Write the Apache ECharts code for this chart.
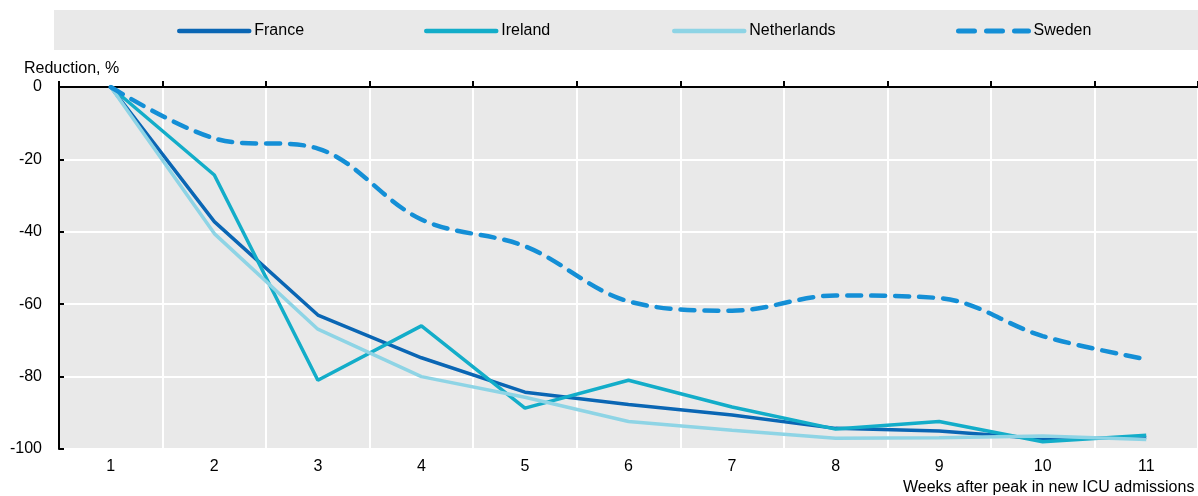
<!DOCTYPE html>
<html>
<head>
<meta charset="utf-8">
<script src="https://cdn.jsdelivr.net/npm/echarts@6/dist/echarts.min.js"></script>
<style>
  html, body { margin: 0; padding: 0; background: #fff; }
  #chart { width: 1198px; height: 496px; }
</style>
</head>
<body>
<div id="chart"></div>
<script>
const weeks = ['1', '2', '3', '4', '5', '6', '7', '8', '9', '10', '11']
const france = [0, -37.2, -63, -74.8, -84.3, -87.7, -90.6, -94.3, -95, -97.2, -96.8]
const ireland = [0, -24.3, -81, -66, -88.7, -81, -88.4, -94.5, -92.4, -98, -96.2]
const netherlands = [0, -40.5, -66.9, -80, -85.7, -92.4, -94.8, -97, -96.9, -96.4, -97.4]
const sweden = [0, -14.2, -17, -36.6, -44, -59.2, -61.8, -57.6, -58.3, -68.8, -75.2]
const yTicks = [0, -20, -40, -60, -80, -100]

const font = '"Liberation Sans", Arial, sans-serif'
const colors = {
  France: '#0a66b4',
  Ireland: '#13adc9',
  Netherlands: '#8ed4e5',
  Sweden: '#148fd6',
}

const chart = echarts.init(document.getElementById('chart'))

const legendAt = (name, left, dashed) => ({
  data: [name],
  left: left,
  top: 23,
  padding: 0,
  itemWidth: 70,
  itemHeight: 16,
  itemGap: 0,
  itemStyle: { opacity: 0 },
  lineStyle: dashed
    ? { width: 5, type: [16, 12], cap: 'round' }
    : { width: 4.5, cap: 'round' },
  textStyle: { fontFamily: font, fontSize: 16, color: '#000' },
})

const lineSeries = (name, data, extra) => Object.assign({
  name: name,
  type: 'line',
  data: data,
  symbol: 'none',
  color: colors[name],
  lineStyle: { color: colors[name], width: 3.5 },
  emphasis: { disabled: true },
}, extra)

chart.setOption({
  animation: false,
  graphic: [
    { type: 'rect', shape: { x: 54, y: 10, width: 1144, height: 40 }, style: { fill: '#e9e9e9' }, z: -1 },
    { type: 'text', left: 24, top: 61, style: { text: 'Reduction, %', font: '16px ' + font, fill: '#000' } },
    { type: 'text', left: 903, top: 480, style: { text: 'Weeks after peak in new ICU admissions', font: '16px ' + font, fill: '#000' } },
  ],
  legend: [
    legendAt('France', 177),
    legendAt('Ireland', 424),
    legendAt('Netherlands', 672),
    legendAt('Sweden', 956, true),
  ],
  grid: {
    left: 59,
    top: 87,
    width: 1142,
    height: 362,
    show: true,
    backgroundColor: '#e9e9e9',
    borderWidth: 0,
  },
  xAxis: [
    {
      type: 'category',
      data: weeks,
      position: 'bottom',
      boundaryGap: true,
      axisLine: { show: false },
      axisTick: { show: false },
      axisLabel: { fontFamily: font, fontSize: 16, color: '#000', margin: 10 },
      splitLine: { show: true, lineStyle: { color: '#fff', width: 2 } },
    },
    {
      type: 'category',
      data: weeks,
      position: 'top',
      boundaryGap: true,
      axisLine: { show: true, lineStyle: { color: '#000', width: 2 } },
      axisTick: { show: true, length: 6, lineStyle: { color: '#000', width: 2 } },
      axisLabel: { show: false },
      splitLine: { show: false },
    },
  ],
  yAxis: {
    type: 'value',
    min: -100,
    max: 0,
    interval: 20,
    axisLine: { show: true, lineStyle: { color: '#000', width: 2 } },
    axisTick: { show: true, inside: true, length: 5, lineStyle: { color: '#000', width: 2 } },
    axisLabel: {
      fontFamily: font,
      fontSize: 16,
      color: '#000',
      margin: 17,
      formatter: (v) => (yTicks.includes(v) ? String(v) : ''),
    },
    splitLine: { show: true, lineStyle: { color: '#fff', width: 2 } },
  },
  series: [
    lineSeries('France', france),
    lineSeries('Ireland', ireland),
    lineSeries('Netherlands', netherlands),
    lineSeries('Sweden', sweden, {
      smooth: 0.35,
      lineStyle: { color: colors.Sweden, width: 4.5, type: [14, 10], cap: 'round' },
    }),
  ],
})
</script>
</body>
</html>
